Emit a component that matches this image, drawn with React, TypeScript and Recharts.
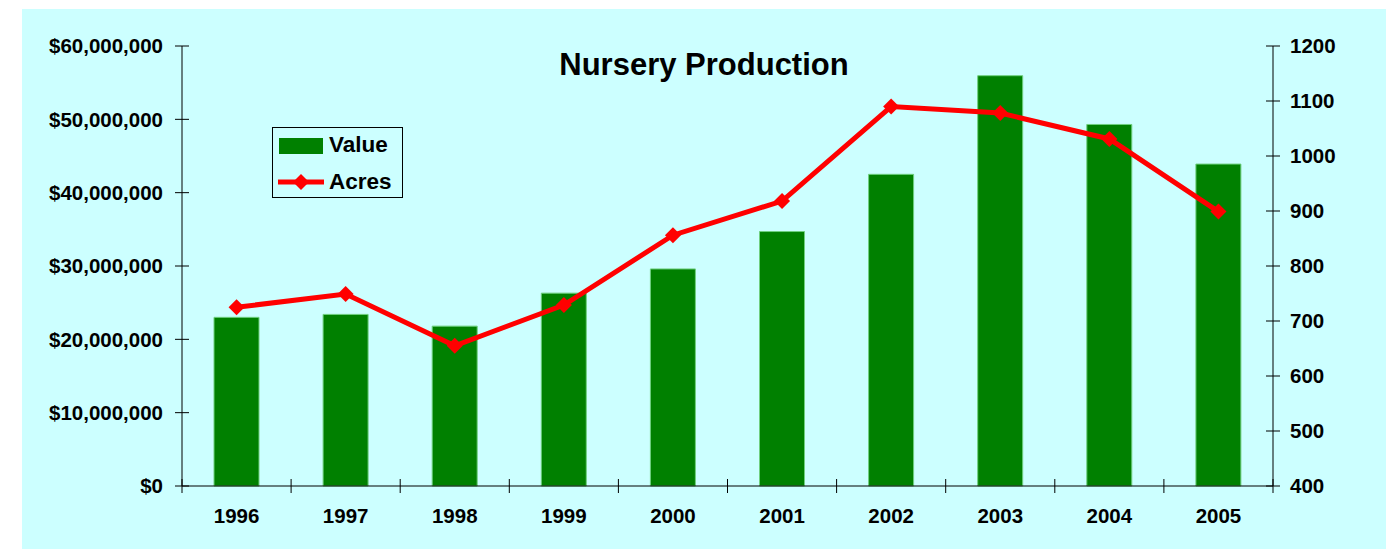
import React from 'react';
import { ComposedChart, Bar, Line, XAxis, YAxis, Legend } from 'recharts';

const years = ['1996', '1997', '1998', '1999', '2000', '2001', '2002', '2003', '2004', '2005'];
const valueSeries = [23000000, 23400000, 21800000, 26300000, 29600000, 34700000, 42500000, 55950000, 49300000, 43900000];
const acresSeries = [725, 749, 655, 729, 856, 918, 1090, 1078, 1031, 899];
const leftTicks = [0, 10000000, 20000000, 30000000, 40000000, 50000000, 60000000];
const rightTicks = [400, 500, 600, 700, 800, 900, 1000, 1100, 1200];

const data = years.map((year, i) => ({ year, value: valueSeries[i], acres: acresSeries[i] }));

const W = 1364;
const H = 540;
const LEFT_W = 160;
const RIGHT_W = 113;
const TOP = 37;
const BOTTOM = 63;
const FONT = '"Liberation Sans", Arial, sans-serif';
const plotW = W - LEFT_W - RIGHT_W;

const fmtMoney = (v: number) => '$' + v.toLocaleString('en-US');

const LeftTick = (props: any) => {
  const { x, y, payload } = props;
  return (
    <g>
      <line x1={x - 7} x2={x + 7} y1={y} y2={y} stroke="#000" strokeWidth={1} />
      <text x={x - 19} y={y} dy="0.36em" textAnchor="end" fontFamily={FONT} fontWeight="bold" fontSize={20.5} fill="#000">
        {fmtMoney(payload.value)}
      </text>
    </g>
  );
};

const RightTick = (props: any) => {
  const { x, y, payload } = props;
  return (
    <g>
      <line x1={x - 7} x2={x + 7} y1={y} y2={y} stroke="#000" strokeWidth={1} />
      <text x={x + 17} y={y} dy="0.36em" textAnchor="start" fontFamily={FONT} fontWeight="bold" fontSize={20.5} fill="#000">
        {payload.value}
      </text>
    </g>
  );
};

const XTick = (props: any) => {
  const { x, y, payload, index } = props;
  const half = plotW / years.length / 2;
  return (
    <g>
      <line x1={x - half} x2={x - half} y1={y - 7} y2={y + 7} stroke="#000" strokeWidth={1} />
      {index === years.length - 1 && (
        <line x1={x + half} x2={x + half} y1={y - 7} y2={y + 7} stroke="#000" strokeWidth={1} />
      )}
      <text x={x} y={y + 30} dy="0.36em" textAnchor="middle" fontFamily={FONT} fontWeight="bold" fontSize={20.5} fill="#000">
        {payload.value}
      </text>
    </g>
  );
};

const Diamond = (props: any) => {
  const { cx, cy } = props;
  if (cx == null || cy == null) return null;
  const r = 8;
  return <polygon points={`${cx},${cy - r} ${cx + r},${cy} ${cx},${cy + r} ${cx - r},${cy}`} fill="#ff0000" stroke="none" />;
};

const LegendBox = () => (
  <div
    style={{
      width: 129,
      height: 69,
      border: '1px solid #000',
      background: '#ccffff',
      position: 'relative',
      fontFamily: FONT,
      fontWeight: 'bold',
      fontSize: 22.5,
    }}
  >
    <div style={{ position: 'absolute', left: 6, top: 10, width: 44, height: 16, background: '#008000' }} />
    <div style={{ position: 'absolute', left: 56, top: 4, lineHeight: '26px' }}>Value</div>
    <svg style={{ position: 'absolute', left: 4, top: 44 }} width={48} height={20}>
      <line x1={1} x2={47} y1={10} y2={10} stroke="#ff0000" strokeWidth={5} />
      <polygon points="24,2 32,10 24,18 16,10" fill="#ff0000" />
    </svg>
    <div style={{ position: 'absolute', left: 56, top: 41, lineHeight: '26px' }}>Acres</div>
  </div>
);

export default function App() {
  return (
    <div style={{ marginLeft: 14, marginTop: 1, width: W, height: H, background: '#ccffff', position: 'relative' }}>
      <div
        style={{
          position: 'absolute',
          left: 382,
          top: 40,
          width: 600,
          textAlign: 'center',
          fontFamily: FONT,
          fontWeight: 'bold',
          fontSize: 31,
          lineHeight: '31px',
          color: '#000',
          zIndex: 2,
        }}
      >
        Nursery Production
      </div>
      <ComposedChart width={W} height={H} data={data} margin={{ top: TOP, right: 0, bottom: 0, left: 0 }} barCategoryGap={0}>
        <XAxis
          dataKey="year"
          height={BOTTOM}
          tick={<XTick />}
          tickLine={false}
          tickSize={0}
          tickMargin={0}
          axisLine={{ stroke: '#000', strokeWidth: 1 }}
          interval={0}
        />
        <YAxis
          yAxisId="left"
          orientation="left"
          width={LEFT_W}
          domain={[0, 60000000]}
          ticks={leftTicks}
          tick={<LeftTick />}
          tickLine={false}
          tickSize={0}
          tickMargin={0}
          axisLine={{ stroke: '#000', strokeWidth: 1 }}
          interval={0}
        />
        <YAxis
          yAxisId="right"
          orientation="right"
          width={RIGHT_W}
          domain={[400, 1200]}
          ticks={rightTicks}
          tick={<RightTick />}
          tickLine={false}
          tickSize={0}
          tickMargin={0}
          axisLine={{ stroke: '#000', strokeWidth: 1 }}
          interval={0}
        />
        <Legend
          layout="horizontal"
          verticalAlign="middle"
          align="center"
          wrapperStyle={{ left: 250, top: 118, width: 131, height: 71 }}
          content={() => <LegendBox />}
        />
        <Bar
          yAxisId="left"
          dataKey="value"
          name="Value"
          fill="#008000"
          stroke="#6fcf7f"
          strokeWidth={1}
          barSize={45}
          isAnimationActive={false}
        />
        <Line
          yAxisId="right"
          dataKey="acres"
          name="Acres"
          stroke="#ff0000"
          strokeWidth={5}
          dot={<Diamond />}
          activeDot={false}
          isAnimationActive={false}
        />
      </ComposedChart>
    </div>
  );
}
